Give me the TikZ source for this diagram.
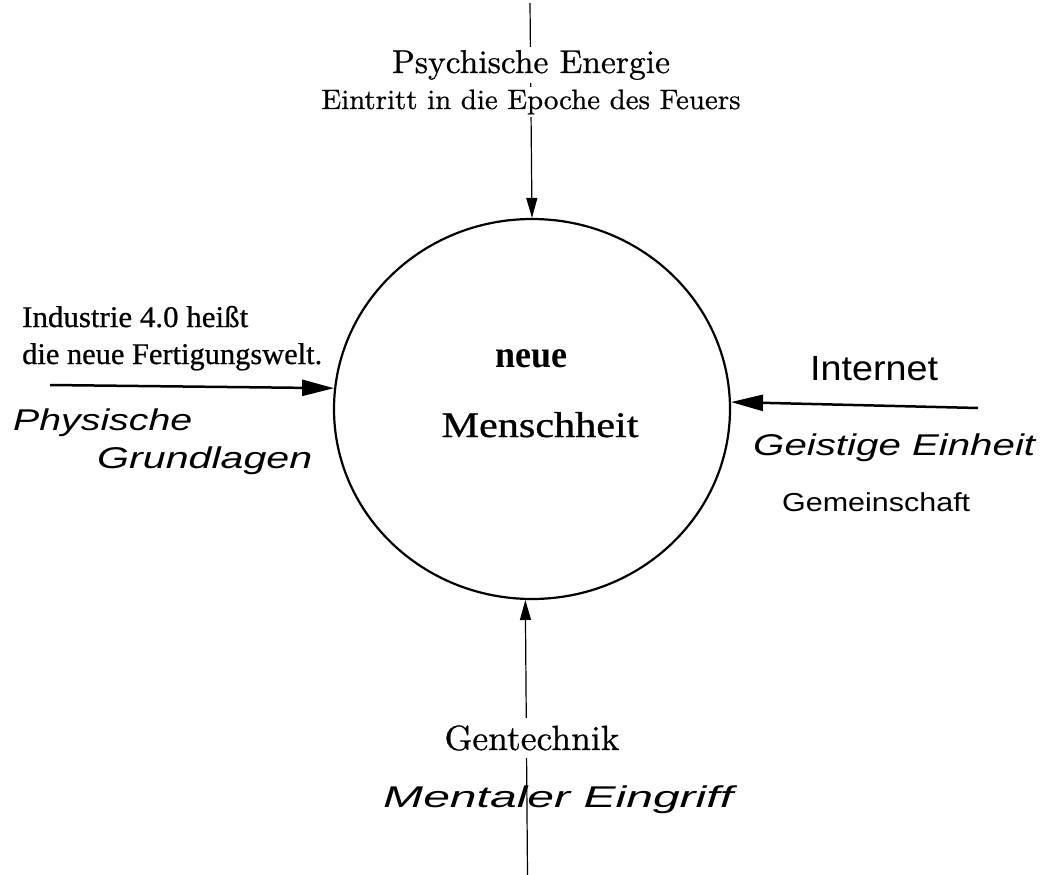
\documentclass[tikz,border=0pt]{standalone}
\usepackage{fontspec}
\usetikzlibrary{arrows.meta,shapes.geometric}
\newfontfamily\tnr{Liberation Serif}
\newfontfamily\arl{Liberation Sans}
\newfontfamily\lmh[FakeBold=0.7]{lmroman10-regular.otf}
\newcommand\fitw[2]{\resizebox{#1pt}{\height}{#2}}
\newcommand\heavy{\addfontfeatures{FakeBold=0.7}}
\tikzset{
  txt/.style={inner sep=0pt, anchor=base west},
  ctxt/.style={inner sep=0pt, anchor=base},
  hide/.style={fill=white, inner xsep=2pt, inner ysep=3pt},
  thinarrow/.style={line width=1.2pt, -{Triangle[length=20pt,width=11pt]}},
  thickarrow/.style={line width=2.5pt, -{Triangle[length=32pt,width=16pt]}},
  hand/.style={inner sep=0pt, anchor=base west, font=\arl\itshape\fontsize{30}{30}\selectfont},
  bigcircle/.style={ellipse, draw, line width=2.2pt, minimum width=396pt, minimum height=380pt, inner sep=0pt}
}
\begin{document}
\begin{tikzpicture}[x=1pt,y=-1pt]
\useasboundingbox[fill=white] (0,0) rectangle (1042,875);
\node[bigcircle] (circ) at (532,409) {};
\coordinate (top) at (530,3);
\coordinate (bot) at (527.5,875);
\coordinate (lft) at (50,385);
\coordinate (rgt) at (978,408);
\draw[thinarrow] (top) -- (circ.90.6);
\draw[thinarrow] (bot) -- (circ.268.6);
\draw[thickarrow] (lft) -- (circ.174.8);
\draw[thickarrow] (rgt) -- (circ.2);
% top texts
\node[ctxt, hide, font=\lmh\fontsize{33}{33}\selectfont] (psy) at (531,73) {\fitw{278}{Psychische Energie}};
\node[ctxt, hide, font=\lmh\fontsize{28}{28}\selectfont] (ein) at (531,109) {\fitw{419}{Eintritt in die Epoche des Feuers}};
% left texts
\node[txt, font=\tnr\fontsize{30}{30}\selectfont\heavy] (ind1) at (22,327) {\fitw{226}{Industrie 4.0 heißt}};
\node[txt, font=\tnr\fontsize{30}{30}\selectfont\heavy] (ind2) at (22,364) {\fitw{300}{die neue Fertigungswelt.}};
\node[hand] (phys) at (13,430) {\fitw{179}{Physische}};
\node[hand] (grund) at (97,468) {\fitw{215}{Grundlagen}};
% centre
\node[ctxt, font=\tnr\bfseries\fontsize{38}{38}\selectfont] (neue) at (531,367) {\fitw{72}{neue}};
\node[ctxt, font=\tnr\fontsize{36}{36}\selectfont\heavy] (mensch) at (540,437) {\fitw{197}{Menschheit}};
% right texts
\node[txt, font=\arl\fontsize{35}{35}\selectfont] (inet) at (810,380) {\fitw{128}{Internet}};
\node[hand] (geist) at (753,455) {\fitw{282}{Geistige Einheit}};
\node[txt, font=\arl\fontsize{26}{26}\selectfont] (gemein) at (782,511) {\fitw{188}{Gemeinschaft}};
% bottom texts
\node[ctxt, hide, inner ysep=7pt, font=\lmh\fontsize{35}{35}\selectfont] (gen) at (532,750) {\fitw{175}{Gentechnik}};
\node[hand] (ment) at (383,807) {\fitw{350}{Mentaler Eingriff}};
\end{tikzpicture}
\end{document}
